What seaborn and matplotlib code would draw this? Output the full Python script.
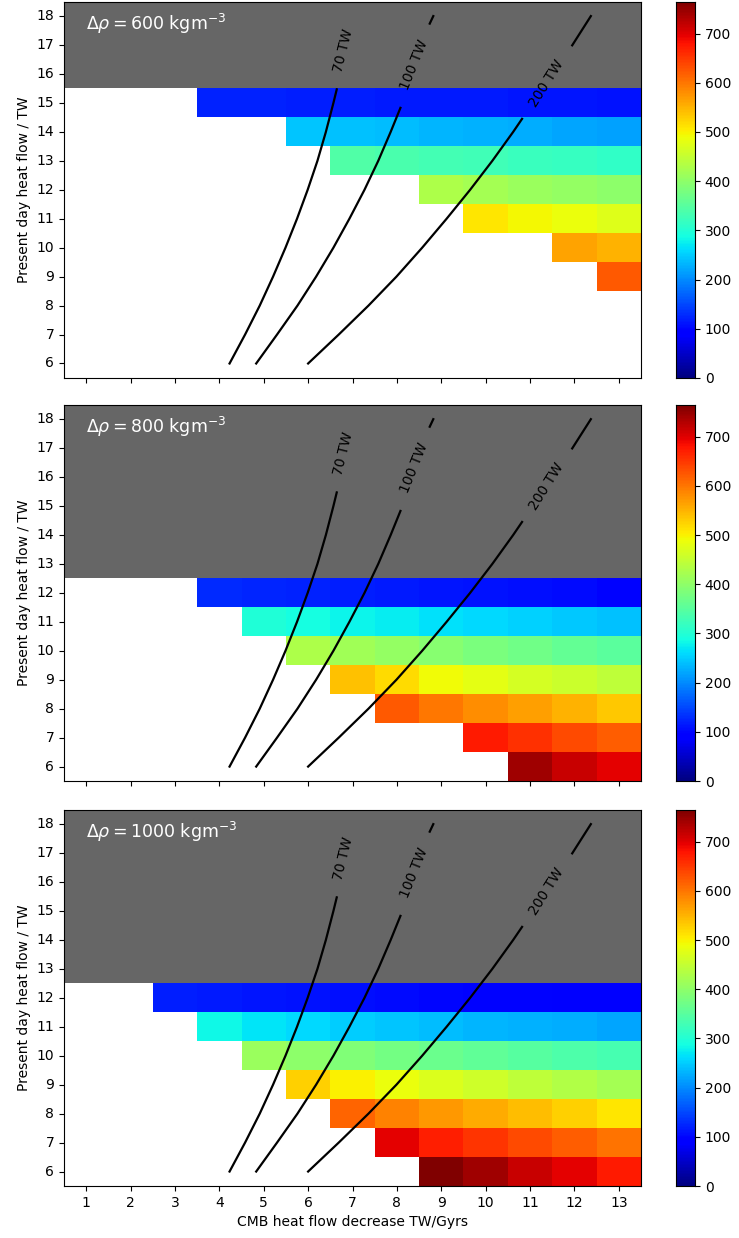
import numpy as np
import pandas as pd
import matplotlib
matplotlib.use("Agg")
import matplotlib.pyplot as plt
import seaborn as sns
from matplotlib.colors import ListedColormap

# ---------------- data ----------------
x_vals = list(range(1, 14))          # CMB heat flow decrease TW/Gyrs
y_vals = list(range(6, 19))          # present day heat flow / TW

# each row: values right-aligned so that the last value sits at x = 13
rows_600 = {
    9: [623],
    10: [562, 551],
    11: [510, 495, 485, 475],
    12: [430, 420, 412, 405, 398],
    13: [342, 336, 331, 326, 322, 317, 312],
    14: [245, 241, 237, 233, 229, 225, 221, 218],
    15: [122, 121, 119, 118, 116, 115, 114, 113, 111, 110],
}
rows_800 = {
    6: [744, 717, 698],
    7: [673, 656, 635, 620],
    8: [623, 599, 582, 566, 551, 534],
    9: [538, 518, 493, 480, 466, 455, 444],
    10: [430, 418, 405, 393, 382, 371, 361, 351],
    11: [296, 288, 280, 272, 265, 258, 252, 247, 242],
    12: [126, 123, 120, 117, 114, 111, 108, 105, 102, 98],
}
rows_1000 = {
    6: [765, 744, 717, 698, 675],
    7: [698, 672, 652, 635, 620, 603],
    8: [615, 591, 571, 558, 542, 527, 510],
    9: [527, 502, 487, 472, 458, 445, 432, 421],
    10: [412, 400, 388, 376, 366, 356, 348, 340, 333],
    11: [283, 268, 258, 250, 244, 238, 233, 229, 225, 221],
    12: [118, 115, 112, 109, 106, 103, 100, 98, 96, 94, 92],
}
panel_rows = [rows_600, rows_800, rows_1000]
panel_density = [600, 800, 1000]
grey_from = [16, 13, 13]            # rows at/above this heat flow are grey

# contour lines (x read at given y)
line70_y = [6.0, 7.0, 8.0, 9.0, 10.0, 11.0, 12.0, 13.0, 14.0, 15.0, 15.47]
line70_x = [4.23, 4.58, 4.91, 5.21, 5.49, 5.75, 5.99, 6.21, 6.40, 6.57, 6.645]
line100_y = [6.0, 7.0, 8.0, 9.0, 10.0, 11.0, 12.0, 13.0, 14.0, 14.83]
line100_x = [4.83, 5.30, 5.76, 6.18, 6.57, 6.93, 7.27, 7.58, 7.86, 8.08]
line100_top_y = [17.74, 18.0]
line100_top_x = [8.74, 8.82]
line200_y = [6.0, 7.0, 8.0, 9.0, 10.0, 11.0, 12.0, 13.0, 14.0, 14.45]
line200_x = [6.00, 6.69, 7.36, 7.99, 8.57, 9.12, 9.65, 10.15, 10.62, 10.82]
line200_top_y = [16.99, 18.0]
line200_top_x = [11.95, 12.37]

labels_text = ["70 TW", "100 TW", "200 TW"]
labels_x = [6.79, 8.40, 11.37]
labels_y = [16.82, 16.33, 15.68]
labels_rot = [76, 68, 58]

cbar_ticks = list(range(0, 800, 100))
vmax = 765

# ---------------- figure ----------------
fig = plt.figure(figsize=(7.39, 12.38), dpi=100)
bottoms = [0.6947, 0.3691, 0.0420]
left, width, height = 0.0866, 0.7808, 0.304
cb_left, cb_width = 0.9147, 0.0257

for k in range(3):
    rows = panel_rows[k]
    grid = pd.DataFrame(np.nan, index=y_vals[::-1], columns=x_vals)
    for y, vals in rows.items():
        for i, v in enumerate(vals):
            grid.loc[y, 13 - len(vals) + 1 + i] = v
    grey = pd.DataFrame(np.nan, index=y_vals[::-1], columns=x_vals)
    grey.loc[[y for y in y_vals if y >= grey_from[k]], :] = 1.0

    b = bottoms[k]
    ax = fig.add_axes([left, b, width, height])
    cax = fig.add_axes([cb_left, b, cb_width, height])

    sns.heatmap(grey, ax=ax, cmap=ListedColormap(["#666666"]), vmin=0, vmax=1,
                cbar=False, xticklabels=True, yticklabels=True)
    sns.heatmap(grid, ax=ax, cmap="jet", vmin=0, vmax=vmax, cbar_ax=cax,
                cbar_kws={"ticks": cbar_ticks}, xticklabels=True, yticklabels=True)

    for s in ax.spines.values():
        s.set_visible(True)
        s.set_color("black")
        s.set_linewidth(0.8)
    ax.tick_params(axis="both", direction="out", length=3.5, width=0.8, labelsize=10)
    ax.set_yticklabels([str(y) for y in y_vals[::-1]], rotation=0)
    ax.set_ylabel("Present day heat flow / TW", fontsize=10)
    if k < 2:
        ax.set_xticklabels([])
        ax.set_xlabel("")
    else:
        ax.set_xticklabels([str(x) for x in x_vals], rotation=0)
        ax.set_xlabel("CMB heat flow decrease TW/Gyrs", fontsize=10)

    cax.tick_params(labelsize=10, length=3.5, width=0.8)
    cax.set_ylim(0, vmax)
    for s in cax.spines.values():
        s.set_visible(True)

    ov = fig.add_axes([left, b, width, height], facecolor="none")
    ov.set_xlim(0.5, 13.5)
    ov.set_ylim(5.5, 18.5)
    ov.axis("off")
    lw = 1.6
    ov.plot(line70_x, line70_y, color="black", lw=lw)
    ov.plot(line100_x, line100_y, color="black", lw=lw)
    ov.plot(line100_top_x, line100_top_y, color="black", lw=lw)
    ov.plot(line200_x, line200_y, color="black", lw=lw)
    ov.plot(line200_top_x, line200_top_y, color="black", lw=lw)
    for t, lx, ly, r in zip(labels_text, labels_x, labels_y, labels_rot):
        ov.text(lx, ly, t, rotation=r, rotation_mode="anchor", ha="center",
                va="center", fontsize=10, color="black")
    ov.text(1.0, 17.74, r"$\Delta\rho = %d$ kgm$^{-3}$" % panel_density[k],
            color="white", fontsize=12.5, va="center", ha="left")

fig.savefig("out.png", dpi=100)
